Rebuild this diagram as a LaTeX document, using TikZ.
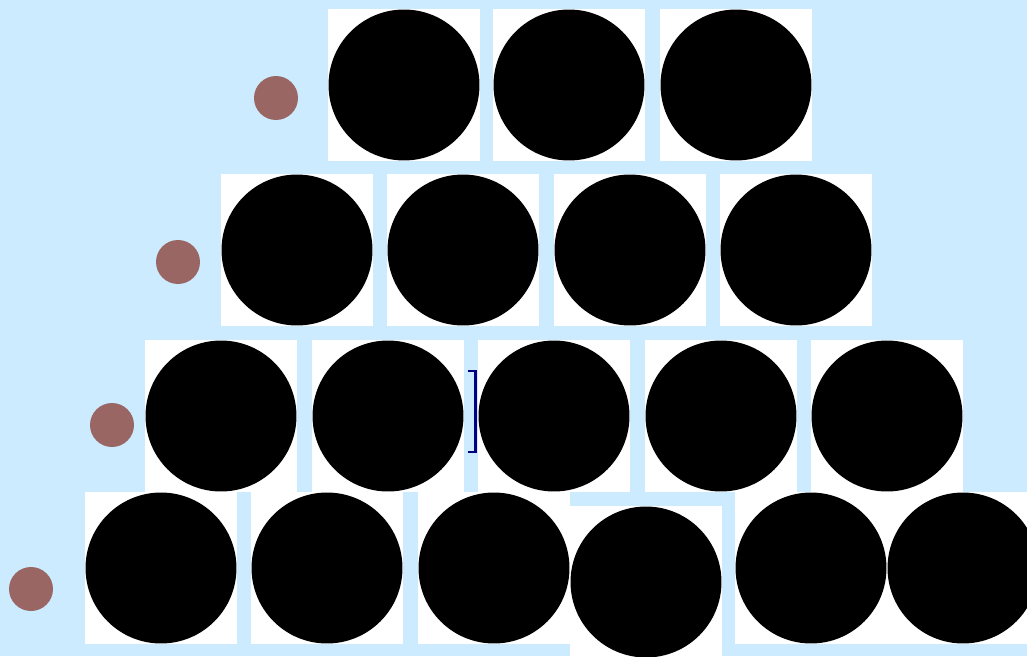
\documentclass[tikz,border=0pt]{standalone}
\usepackage{tikz}
\usetikzlibrary{positioning}
\definecolor{Sky}{HTML}{CCEBFF}
\definecolor{Dot}{HTML}{996664}
\definecolor{Navy}{HTML}{000080}
\tikzset{
  tile/.style={rectangle,fill=white,minimum size=3.04cm,inner sep=0pt,
    path picture={\fill[black] (path picture bounding box.center) circle (1.51cm);}},
  marker/.style={circle,fill=Dot,minimum size=0.88cm,inner sep=0pt},
  bracket/.style={draw=Navy,line width=1.5pt}
}

\begin{document}
\begin{tikzpicture}[x=0.02cm,y=-0.02cm]
  \fill[Sky] (0,0) rectangle (1027,656);
  \useasboundingbox (0,0) rectangle (1027,656);
  \clip (0,0) rectangle (1027,656);
  % markers
  \node[marker] (m1) at (276,98) {};
  \node[marker] (m2) at (178,262) {};
  \node[marker] (m3) at (112,425) {};
  \node[marker] (m4) at (31,589) {};
  % row 1
  \node[tile] (a1) at (404,85) {};
  \node[tile] (a2) at (569,85) {};
  \node[tile] (a3) at (736,85) {};
  % row 2
  \node[tile] (b1) at (297,250) {};
  \node[tile] (b2) at (463,250) {};
  \node[tile] (b3) at (630,250) {};
  \node[tile] (b4) at (796,250) {};
  % row 3
  \node[tile] (c1) at (221,416) {};
  \node[tile] (c2) at (388,416) {};
  \node[tile] (c3) at (554,416) {};
  \node[tile] (c4) at (721,416) {};
  \node[tile] (c5) at (887,416) {};
  % row 4
  \node[tile] (d1) at (161,568) {};
  \node[tile] (d2) at (327,568) {};
  \node[tile] (d3) at (494,568) {};
  \node[tile] (d4) at (646,582) {};
  \node[tile] (d5) at (811,568) {};
  \node[tile] (d6) at (963,568) {};
  % bracket between c2 and c3
  \draw[bracket] (468,371) -- (475.5,371) -- (475.5,452) -- (468,452);
\end{tikzpicture}
\end{document}
